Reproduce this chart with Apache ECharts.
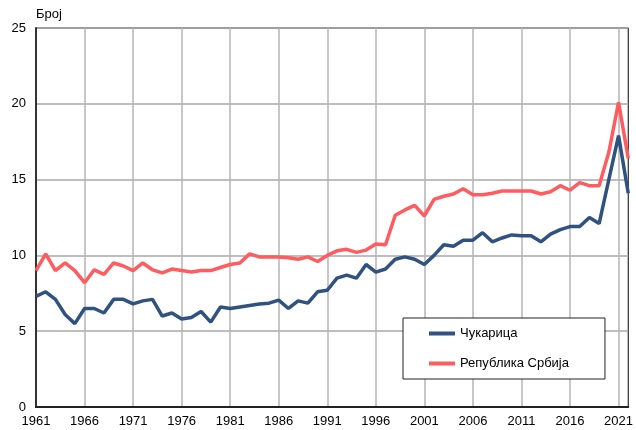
<!DOCTYPE html>
<html>
<head>
<meta charset="utf-8">
<script src="https://cdn.jsdelivr.net/npm/echarts@6/dist/echarts.min.js"></script>
<style>
  html, body { margin: 0; padding: 0; background: #fff; }
  #main { width: 636px; height: 430px; }
</style>
</head>
<body>
<div id="main"></div>
<script>
// godine 1961-2022
var years = [];
for (var y = 1961; y <= 2022; y++) years.push(String(y));

var cukarica = [
  7.3, 7.6, 7.1, 6.1, 5.5, 6.5, 6.5, 6.2, 7.1, 7.1,
  6.8, 7.0, 7.1, 6.0, 6.2, 5.8, 5.9, 6.3, 5.6, 6.6,
  6.5, 6.6, 6.7, 6.8, 6.85, 7.05, 6.5, 7.0, 6.85, 7.6,
  7.7, 8.5, 8.7, 8.5, 9.4, 8.9, 9.1, 9.75, 9.9, 9.75,
  9.4, 10.0, 10.7, 10.6, 11.0, 11.0, 11.5, 10.9, 11.15, 11.35,
  11.3, 11.3, 10.9, 11.4, 11.7, 11.9, 11.9, 12.5, 12.1, 15.0,
  17.9, 14.1
];

var srbija = [
  9.0, 10.1, 9.0, 9.5, 9.0, 8.2, 9.05, 8.75, 9.5, 9.3,
  9.0, 9.5, 9.05, 8.85, 9.1, 9.0, 8.9, 9.0, 9.0, 9.2,
  9.4, 9.5, 10.1, 9.9, 9.9, 9.9, 9.85, 9.75, 9.9, 9.6,
  10.0, 10.3, 10.4, 10.2, 10.35, 10.75, 10.7, 12.65, 13.0, 13.3,
  12.6, 13.7, 13.9, 14.05, 14.4, 14.0, 14.0, 14.1, 14.25, 14.25,
  14.25, 14.25, 14.05, 14.2, 14.6, 14.3, 14.8, 14.6, 14.6, 16.8,
  20.1, 16.4
];

var chart = echarts.init(document.getElementById('main'), null, { renderer: 'canvas' });

var option = {
  backgroundColor: '#fff',
  animation: false,
  textStyle: { fontFamily: 'Liberation Sans, Arial, sans-serif' },
  grid: {
    left: 36, right: 4, top: 28, bottom: 23,
    show: true,
    borderColor: '#000',
    borderWidth: 1
  },
  legend: {
    orient: 'vertical',
    left: 403, top: 318,
    padding: [9, 36, 9, 26],
    itemGap: 17,
    itemWidth: 26,
    itemHeight: 4,
    borderColor: '#222',
    borderWidth: 1,
    backgroundColor: '#fff',
    textStyle: { fontSize: 13, color: '#000', fontFamily: 'Liberation Sans, Arial, sans-serif' },
    data: [
      { name: 'Чукарица', icon: 'rect' },
      { name: 'Република Србија', icon: 'rect' }
    ]
  },
  xAxis: {
    type: 'category',
    data: years,
    boundaryGap: false,
    axisLine: { lineStyle: { color: '#222', width: 2 } },
    axisTick: { show: false },
    axisLabel: { interval: 4, color: '#000', fontSize: 13, margin: 8 },
    splitLine: { show: true, interval: 4, lineStyle: { color: '#b4b4b4', width: 1.5 } }
  },
  yAxis: {
    type: 'value',
    min: 0, max: 25, interval: 5,
    name: 'Број',
    nameLocation: 'end',
    nameGap: 7,
    nameTextStyle: { color: '#000', fontSize: 13, align: 'left', padding: [0, 0, 0, 0] },
    axisLine: { show: true, lineStyle: { color: '#333', width: 2 } },
    axisTick: { show: false },
    axisLabel: { color: '#000', fontSize: 13, margin: 10 },
    splitLine: { lineStyle: { color: '#a8a8a8', width: 1.5 } }
  },
  series: [
    {
      name: 'Чукарица',
      type: 'line',
      data: cukarica,
      symbol: 'none',
      color: '#2f5280',
      lineStyle: { width: 3.5, color: '#2f5280' }
    },
    {
      name: 'Република Србија',
      type: 'line',
      data: srbija,
      symbol: 'none',
      color: '#ff5c5f',
      lineStyle: { width: 3.5, color: '#ff5c5f' }
    }
  ]
};

chart.setOption(option);
</script>
</body>
</html>
